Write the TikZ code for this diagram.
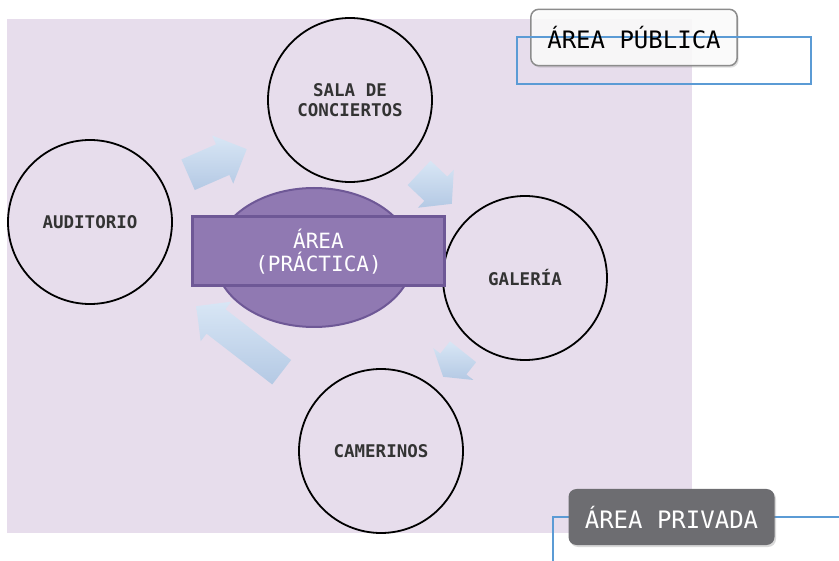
\documentclass[tikz,border=0pt]{standalone}
\usepackage{fontspec}
\setmonofont{DejaVu Sans Mono}
\usepackage{xcolor}
\definecolor{lavender}{RGB}{231, 221, 236}
\definecolor{hubfill}{RGB}{144, 121, 178}
\definecolor{hubline}{RGB}{110, 88, 150}
\definecolor{arrowtop}{RGB}{216, 230, 245}
\definecolor{arrowbot}{RGB}{180, 201, 228}
\definecolor{linkblue}{RGB}{91, 155, 213}
\definecolor{tagdark}{RGB}{109, 109, 113}
\definecolor{tagline}{RGB}{140, 140, 140}
\usepackage{tikz}
\usetikzlibrary{shapes,shapes.arrows,positioning,backgrounds,shadows}

\begin{document}
\begin{tikzpicture}[
  x=1pt, y=-1pt,
  room/.style={circle, draw=black, line width=1.8pt, minimum size=164pt, align=center, font=\fontsize{17.5}{20}\selectfont\ttfamily\bfseries, text=black!80},
  hub/.style={ellipse, draw=hubline, line width=2pt, fill=hubfill, minimum width=198pt, minimum height=139pt},
  banner/.style={rectangle, draw=hubline, line width=3pt, fill=hubfill, minimum width=252pt, minimum height=69pt, align=center, text=white, font=\fontsize{21}{23}\selectfont\ttfamily},
  flow/.style={single arrow, anchor=tip, inner xsep=0pt, minimum width=0pt, top color=arrowtop, bottom color=arrowbot, draw=none},
  tag/.style={rectangle, rounded corners=8pt, minimum width=206pt, minimum height=56pt, font=\fontsize{24}{28}\selectfont\ttfamily},
  link/.style={draw=linkblue, line width=1.5pt}
]
\useasboundingbox (0,0) rectangle (839,561);
\begin{scope}[on background layer]
  \fill[lavender] (7,19) rectangle (692,533);
\end{scope}

% the four rooms
\node[room] (sala) at (350,100) {SALA DE\\CONCIERTOS};
\node[room] (aud) at (90,222) {AUDITORIO};
\node[room] (gal) at (525,278) {GALERÍA};
\node[room] (cam) at (381,451) {CAMERINOS};

% block arrows between them
\node[flow, rotate=23.6, inner ysep=16.5pt, single arrow head extend=9.5pt, minimum height=64pt] (audsala) at (247,149) {};
\node[flow, rotate=-43.4, inner ysep=16.5pt, single arrow head extend=9.5pt, single arrow tip angle=100, minimum height=45pt] (salagal) at (452,204) {};
\node[flow, rotate=-128.5, inner ysep=16.5pt, single arrow head extend=9pt, single arrow tip angle=115, minimum height=32pt] (galcam) at (443,377) {};
\node[flow, rotate=142.3, inner ysep=15.25pt, single arrow head extend=9.5pt, minimum height=108pt] (camhub) at (196,306) {};

% practice area in the middle
\node[hub] (hub) at (314,257.5) {};
\node[banner] (practica) at (318.5,251.5) {ÁREA\\(PRÁCTICA)};

% public area tag
\draw[link] (517,37) rectangle (811,84);
\node[tag] (pub) at (634,37.5) {ÁREA PÚBLICA};
\begin{scope}[on background layer]
  \draw[draw=tagline, line width=1.5pt, fill=white, fill opacity=0.85, rounded corners=8pt,
    drop shadow={opacity=0.25, shadow xshift=1.5pt, shadow yshift=-2pt}]
    (pub.north west) rectangle (pub.south east);
\end{scope}

% private area tag
\coordinate (privtail) at (553,561);
\coordinate (privend) at (839,517);
\draw[link] (671.5,517) -| (privtail);
\draw[link] (671.5,517) -- (privend);
\node[tag, fill=tagdark, text=white, drop shadow={opacity=0.3, shadow xshift=1.5pt, shadow yshift=-2pt}] (priv) at (671.5,517) {ÁREA PRIVADA};
\end{tikzpicture}
\end{document}
